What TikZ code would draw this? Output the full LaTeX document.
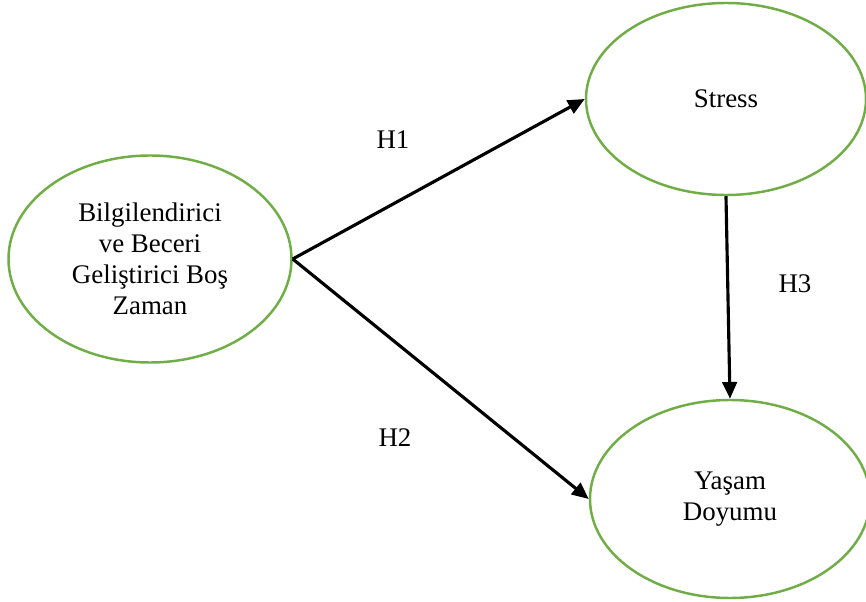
\documentclass[tikz,border=0pt]{standalone}
\usepackage{fontspec}
\setmainfont{Liberation Serif}
\usetikzlibrary{shapes.geometric,arrows.meta}

\definecolor{oval}{HTML}{70AD47}
\tikzset{
	factor/.style={ellipse, draw=oval, line width=1.1pt, align=center, font=\fontsize{12}{13.8}\selectfont, inner sep=0pt},
	path/.style={line width=1.4pt, -{Triangle[length=7.5pt,width=6.5pt]}},
	hyp/.style={font=\fontsize{12}{13.8}\selectfont}
}

\begin{document}
\begin{tikzpicture}[x=0.01568cm, y=-0.01568cm]
		\useasboundingbox (0,0) rectangle (866,602);
		
		%ellipses
		\node[factor, minimum width=283*0.01568cm, minimum height=207*0.01568cm] (bos) at (150,259) {Bilgilendirici\\ve Beceri\\Geliştirici Boş\\Zaman};
		\node[factor, minimum width=280*0.01568cm, minimum height=192*0.01568cm] (stres) at (726,99) {Stress};
		\node[factor, minimum width=280*0.01568cm, minimum height=198*0.01568cm] (doyum) at (730,499) {Yaşam\\Doyumu};
		
		%arrows
		\draw[path] (bos.east) -- (stres.west);
		\draw[path] (bos.east) -- (doyum.west);
		\draw[path] (stres.south) -- (doyum.north);
		
		%labels
		\node[hyp] (h1) at (393,140) {H1};
		\node[hyp] (h2) at (395,438) {H2};
		\node[hyp] (h3) at (795,284) {H3};
\end{tikzpicture}
\end{document}
